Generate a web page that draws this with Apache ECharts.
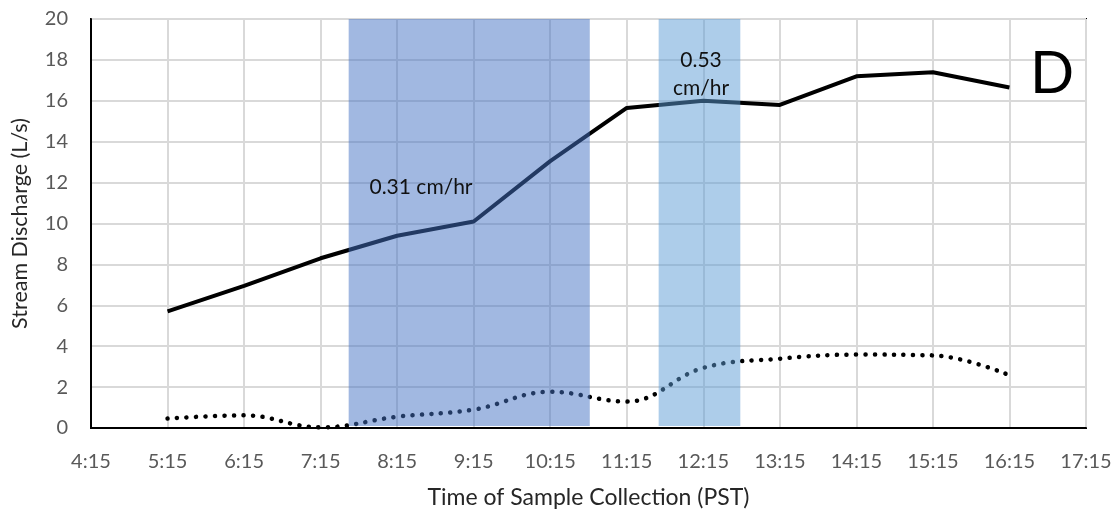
<!DOCTYPE html>
<html>
<head>
<meta charset="utf-8">
<script src="https://cdn.jsdelivr.net/npm/echarts@6/dist/echarts.min.js"></script>
<style>
  html, body { margin: 0; padding: 0; background: #fff; }
  #chart { width: 1120px; height: 514px; }
</style>
</head>
<body>
<div id="chart"></div>
<script>
// Sample collection times (PST)
const sampleTimes = ['5:15', '6:15', '7:15', '8:15', '9:15', '10:15', '11:15', '12:15', '13:15', '14:15', '15:15', '16:15'];
// Stream discharge (L/s)
const dischargeMain = [5.7, 6.95, 8.3, 9.4, 10.1, 13.05, 15.65, 16.0, 15.8, 17.2, 17.4, 16.65];
const dischargeDotted = [0.46, 0.62, 0.03, 0.55, 0.9, 1.77, 1.29, 2.94, 3.39, 3.59, 3.55, 2.58];
// x-axis tick labels
const xTickLabels = ['4:15', '5:15', '6:15', '7:15', '8:15', '9:15', '10:15', '11:15', '12:15', '13:15', '14:15', '15:15', '16:15', '17:15'];
// Rainfall periods: start, end, intensity label
const rainStart = ['7:37', '11:40'];
const rainEnd = ['10:46', '12:44'];
const rainLabels = ['0.31 cm/hr', '0.53\ncm/hr'];

// hours elapsed since the first tick (4:15)
const origin = 4 * 60 + 15;
function toHours(t) {
  const [h, m] = t.split(':').map(Number);
  return (h * 60 + m - origin) / 60;
}

const mainData = sampleTimes.map((t, i) => [toHours(t), dischargeMain[i]]);
const dottedData = sampleTimes.map((t, i) => [toHours(t), dischargeDotted[i]]);
const bandData = rainStart.map((s, i) => [toHours(s), toHours(rainEnd[i]), i]);

// translucent rain bands, laid over the discharge lines
const bandColors = ['rgba(68,114,196,0.5)', 'rgba(91,155,213,0.5)'];

const FONT = 'Lato, "Open Sans", sans-serif';

const chart = echarts.init(document.getElementById('chart'), null, { renderer: 'canvas' });
chart.setOption({
  animation: false,
  backgroundColor: '#ffffff',
  grid: {
    left: 91, right: 34, top: 19, bottom: 84,
    show: true, borderColor: '#000', borderWidth: 2, backgroundColor: 'transparent'
  },
  xAxis: {
    type: 'value',
    min: 0, max: xTickLabels.length - 1, interval: 1,
    name: 'Time of Sample Collection (PST)',
    nameLocation: 'middle', nameGap: 58,
    nameTextStyle: { fontFamily: FONT, fontSize: 23, color: '#262626' },
    axisLine: { show: true, lineStyle: { color: '#000', width: 2 } },
    axisTick: { show: false },
    axisLabel: {
      fontFamily: FONT, fontSize: 20, color: '#595959', margin: 24,
      formatter: v => xTickLabels[Math.round(v)] || ''
    },
    splitLine: { show: true, lineStyle: { color: '#d9d9d9', width: 2 } }
  },
  yAxis: {
    type: 'value',
    min: 0, max: 20, interval: 2,
    name: 'Stream Discharge (L/s)',
    nameLocation: 'middle', nameGap: 60,
    nameTextStyle: { fontFamily: FONT, fontSize: 21.5, color: '#262626' },
    axisLine: { show: true, lineStyle: { color: '#000', width: 2 } },
    axisTick: { show: false },
    axisLabel: { fontFamily: FONT, fontSize: 20, color: '#595959', margin: 23 },
    splitLine: { show: true, lineStyle: { color: '#d9d9d9', width: 2 } }
  },
  series: [
    {
      name: 'Discharge',
      type: 'line',
      data: mainData,
      showSymbol: false,
      lineStyle: { color: '#000', width: 4 },
      z: 3
    },
    {
      name: 'Discharge (dotted)',
      type: 'line',
      data: dottedData,
      smooth: 0.4,
      showSymbol: false,
      lineStyle: { color: '#000', width: 4.5, type: [0.1, 9.4], cap: 'round' },
      z: 3
    },
    {
      name: 'Rainfall',
      type: 'custom',
      data: bandData,
      z: 5,
      silent: true,
      encode: { x: [0, 1] },
      renderItem: (params, api) => {
        const p0 = api.coord([api.value(0), 20]);
        const p1 = api.coord([api.value(1), 0.1]);
        return {
          type: 'rect',
          shape: { x: p0[0], y: p0[1], width: p1[0] - p0[0], height: p1[1] - p0[1] },
          style: { fill: bandColors[api.value(2)] }
        };
      }
    }
  ],
  graphic: [
    {
      type: 'text', x: 421, y: 187, z: 10,
      style: { text: rainLabels[0], font: '21px ' + FONT, fill: '#111', align: 'center', verticalAlign: 'middle' }
    },
    {
      type: 'text', x: 701, y: 74, z: 10,
      style: { text: rainLabels[1], font: '21px ' + FONT, fill: '#111', align: 'center', verticalAlign: 'middle', lineHeight: 28 }
    },
    {
      type: 'text', x: 1052, y: 74, z: 10,
      style: { text: 'D', font: '58px ' + FONT, fill: '#000', align: 'center', verticalAlign: 'middle' }
    }
  ]
});
</script>
</body>
</html>
